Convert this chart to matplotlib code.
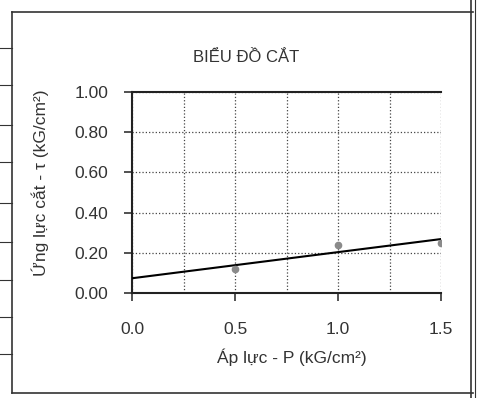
import numpy as np
import matplotlib.pyplot as plt
from matplotlib.lines import Line2D

plt.rcParams['font.family'] = ['Liberation Sans', 'DejaVu Sans']

# %% data
pressure = [0.5, 1.0, 1.5]
shear = [0.12, 0.24, 0.25]
x_ticks = [0.0, 0.5, 1.0, 1.5]
y_ticks = [0.0, 0.2, 0.4, 0.6, 0.8, 1.0]

# linear trendline through the test points
slope, intercept = np.polyfit(pressure, shear, 1)
x_fit = np.array([0.0, 1.5])
y_fit = intercept + slope * x_fit

W, H = 479, 398
fig = plt.figure(figsize=(W / 100, H / 100), dpi=100)

# %% table borders of the scanned report
def hline(y, x0, x1, lw=1.2):
    fig.add_artist(Line2D([x0 / W, x1 / W], [1 - y / H, 1 - y / H], color='#333333', lw=lw))

def vline(x, y0, y1, lw=1.2):
    fig.add_artist(Line2D([x / W, x / W], [1 - y0 / H, 1 - y1 / H], color='#333333', lw=lw))

hline(12, 12, 473)
hline(393, 12, 473)
vline(12, 12, 393)
vline(471, 0, 398)
vline(475, 0, 398, lw=0.8)
for y in [48, 85, 125, 162, 203, 242, 280, 317, 354]:
    hline(y, 0, 12, lw=0.8)

# %% chart
ax = fig.add_axes([132 / W, 1 - 293 / H, (441 - 132) / W, (293 - 92) / H])
ax.plot(x_fit, y_fit, color='black', lw=1.5, zorder=3)
ax.plot(pressure, shear, 'o', color='#8a8a8a', markersize=4.5, zorder=4)

ax.set_xlim(0, 1.5)
ax.set_ylim(0, 1.0)
ax.set_xticks(x_ticks)
ax.set_xticks([0.25, 0.75, 1.25], minor=True)
ax.set_yticks(y_ticks)
ax.set_xticklabels(['%.1f' % v for v in x_ticks])
ax.set_yticklabels(['%.2f' % v for v in y_ticks])
ax.grid(True, which='both', linestyle=':', color='#444444', lw=0.9)
ax.tick_params(which='minor', length=0)
ax.tick_params(which='major', direction='out', length=6, width=1.2, color='#333333',
               labelsize=12.5, labelcolor='#333333')
ax.tick_params(axis='y', pad=11)
ax.tick_params(axis='x', pad=15)
ax.spines['right'].set_visible(False)
for s in ['left', 'bottom', 'top']:
    ax.spines[s].set_linewidth(1.5)
    ax.spines[s].set_color('#222222')

fig.text(246 / W, 1 - 57 / H, 'BIỂU ĐỒ CẮT', ha='center', va='center', fontsize=12, color='#333333')
fig.text(40 / W, 1 - 183 / H, 'Ứng lực cắt - τ (kG/cm²)', ha='center', va='center',
         rotation=90, fontsize=12.5, color='#333333')
fig.text(292 / W, 1 - 357 / H, 'Áp lực - P (kG/cm²)', ha='center', va='center',
         fontsize=12.5, color='#333333')

plt.savefig('out.png', dpi=100)
